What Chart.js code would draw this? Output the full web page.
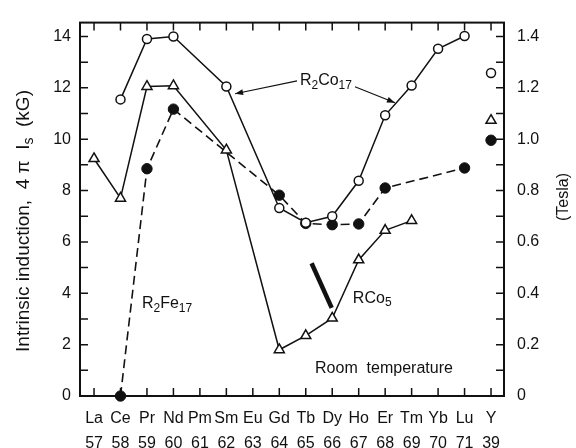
<!DOCTYPE html>
<html><head><meta charset="utf-8">
<script src="https://cdn.jsdelivr.net/npm/chart.js@4/dist/chart.umd.min.js"></script>
<style>html,body{margin:0;padding:0;background:#fff}#wrap{width:576px;height:448px}</style>
</head><body><div id="wrap"><canvas id="c" width="576" height="448"></canvas></div>
<script>
// ---- data ----
const symbols = ['La','Ce','Pr','Nd','Pm','Sm','Eu','Gd','Tb','Dy','Ho','Er','Tm','Yb','Lu','Y'];
const atomicNumbers = ['57','58','59','60','61','62','63','64','65','66','67','68','69','70','71','39'];
const r2co17 = [null, 11.55, 13.9, 14.0, null, 12.05, null, 7.32, 6.75, 7.0, 8.38, 10.93, 12.09, 13.52, 14.02, null];
const rco5   = [9.24, 7.7, 12.05, 12.08, null, 9.58, null, 1.8, 2.35, 3.03, 5.3, 6.45, 6.83, null, null, null];
const r2fe17 = [null, 0, 8.85, 11.17, null, null, null, 7.82, 6.72, 6.67, 6.7, 8.1, null, null, 8.88, null];
// yttrium (index 15) plotted as isolated points: R2Co17, RCo5, R2Fe17
const yttrium = [12.58, 10.73, 9.96];
const yttriumIndex = 15;
// short thick bar between Tb and Dy
const barX = [8.22, 8.98];
const barY = [5.17, 3.43];
const kgTicks = [0,1,2,3,4,5,6,7,8,9,10,11,12,13,14];
const teslaTicks = [0,0.1,0.2,0.3,0.4,0.5,0.6,0.7,0.8,0.9,1.0,1.1,1.2,1.3,1.4];

const FONT = '"Liberation Sans", Arial, sans-serif';
const INK = '#111';

const toXY = arr => arr.map((v, i) => ({x: i, y: v}));

const notes = [
  {parts: [['R',0],['2',1],['Co',0],['17',1]], x: 7.78, y: 12.27},
  {parts: [['R',0],['2',1],['Fe',0],['17',1]], x: 1.81, y: 3.58},
  {parts: [['RCo',0],['5',1]], x: 9.78, y: 3.81},
  {parts: [['Room  temperature',0]], x: 8.35, y: 1.08}
];
const arrows = [
  {from: [7.67, 12.27], to: [5.33, 11.77]},
  {from: [9.86, 12.04], to: [11.37, 11.42]}
];

function richWidth(ctx, parts, size) {
  let w = 0;
  for (const [t, sub] of parts) {
    ctx.font = (sub ? Math.round(size * 0.72) : size) + 'px ' + FONT;
    w += ctx.measureText(t).width;
  }
  return w;
}
function drawRich(ctx, parts, x, y, size, align) {
  let cx = align === 'center' ? x - richWidth(ctx, parts, size) / 2 : x;
  ctx.textBaseline = 'middle';
  ctx.textAlign = 'left';
  for (const [t, sub] of parts) {
    ctx.font = (sub ? Math.round(size * 0.72) : size) + 'px ' + FONT;
    ctx.fillText(t, cx, sub ? y + size * 0.28 : y);
    cx += ctx.measureText(t).width;
  }
}

const decor = {
  id: 'decor',
  afterDraw(chart) {
    const ctx = chart.ctx, a = chart.chartArea;
    const xs = chart.scales.x, ys = chart.scales.y, ts = chart.scales.y2;
    ctx.save();
    ctx.strokeStyle = INK; ctx.fillStyle = INK;
    // frame
    ctx.lineWidth = 2;
    ctx.strokeRect(a.left, a.top, a.right - a.left, a.bottom - a.top);
    // inward ticks
    ctx.lineWidth = 1.5;
    const L = 8;
    ctx.beginPath();
    for (const t of xs.ticks) {
      const px = xs.getPixelForValue(t.value);
      ctx.moveTo(px, a.bottom); ctx.lineTo(px, a.bottom - L);
      ctx.moveTo(px, a.top); ctx.lineTo(px, a.top + L);
    }
    for (const t of ys.ticks) {
      const py = ys.getPixelForValue(t.value);
      ctx.moveTo(a.left, py); ctx.lineTo(a.left + L, py);
    }
    for (const t of ts.ticks) {
      const py = ts.getPixelForValue(t.value);
      ctx.moveTo(a.right, py); ctx.lineTo(a.right - L, py);
    }
    ctx.stroke();
    // arrows
    ctx.lineWidth = 1.2;
    for (const ar of arrows) {
      const x1 = xs.getPixelForValue(ar.from[0]), y1 = ys.getPixelForValue(ar.from[1]);
      const x2 = xs.getPixelForValue(ar.to[0]), y2 = ys.getPixelForValue(ar.to[1]);
      ctx.beginPath(); ctx.moveTo(x1, y1); ctx.lineTo(x2, y2); ctx.stroke();
      const ang = Math.atan2(y2 - y1, x2 - x1), hl = 8, hw = 3;
      ctx.beginPath();
      ctx.moveTo(x2, y2);
      ctx.lineTo(x2 - hl * Math.cos(ang) + hw * Math.sin(ang), y2 - hl * Math.sin(ang) - hw * Math.cos(ang));
      ctx.lineTo(x2 - hl * Math.cos(ang) - hw * Math.sin(ang), y2 - hl * Math.sin(ang) + hw * Math.cos(ang));
      ctx.closePath(); ctx.fill();
    }
    // notes
    for (const n of notes) {
      drawRich(ctx, n.parts, xs.getPixelForValue(n.x), ys.getPixelForValue(n.y), 16, 'left');
    }
    // axis titles
    ctx.save();
    ctx.translate(24, 221); ctx.rotate(-Math.PI / 2);
    drawRich(ctx, [['Intrinsic induction,  4 π  I',0],['s',1],['  (kG)',0]], 0, 0, 19, 'center');
    ctx.restore();
    ctx.save();
    ctx.translate(564, 197); ctx.rotate(-Math.PI / 2);
    drawRich(ctx, [['(Tesla)',0]], 0, 0, 16, 'center');
    ctx.restore();
    ctx.restore();
  }
};

const openCircle = {pointStyle: 'circle', pointRadius: 4.5, pointBackgroundColor: '#fff', pointBorderColor: INK, pointBorderWidth: 1.5};
const filledCircle = {pointStyle: 'circle', pointRadius: 5.2, pointBackgroundColor: INK, pointBorderColor: INK, pointBorderWidth: 1};
const openTri = {pointStyle: 'triangle', pointRadius: 5.8, pointBackgroundColor: '#fff', pointBorderColor: INK, pointBorderWidth: 1.5};

new Chart(document.getElementById('c'), {
  type: 'line',
  data: {
    datasets: [
      Object.assign({label: 'R2Co17', data: toXY(r2co17), borderColor: INK, borderWidth: 1.5, spanGaps: true, clip: false}, openCircle),
      Object.assign({label: 'RCo5', data: toXY(rco5), borderColor: INK, borderWidth: 1.5, spanGaps: true, clip: false}, openTri),
      Object.assign({label: 'R2Fe17', data: toXY(r2fe17), borderColor: INK, borderWidth: 1.6, borderDash: [9, 5], spanGaps: true, clip: false}, filledCircle),
      Object.assign({label: 'Y R2Co17', data: [{x: yttriumIndex, y: yttrium[0]}], showLine: false, clip: false}, openCircle),
      Object.assign({label: 'Y RCo5', data: [{x: yttriumIndex, y: yttrium[1]}], showLine: false, clip: false}, openTri),
      Object.assign({label: 'Y R2Fe17', data: [{x: yttriumIndex, y: yttrium[2]}], showLine: false, clip: false}, filledCircle),
      {label: 'bar', data: barX.map((x, i) => ({x, y: barY[i]})), borderColor: INK, borderWidth: 4.5, pointRadius: 0, borderCapStyle: 'butt', clip: false}
    ]
  },
  options: {
    responsive: false, animation: false, devicePixelRatio: 1,
    layout: {autoPadding: false, padding: {top: 18, left: 0, right: 0, bottom: 0}},
    plugins: {legend: {display: false}, tooltip: {enabled: false}},
    elements: {line: {tension: 0}},
    scales: {
      x: {
        type: 'linear', min: -0.53, max: 15.49,
        afterBuildTicks: s => { s.ticks = symbols.map((_, i) => ({value: i})); },
        afterFit: s => { s.height = 52; },
        grid: {display: false, drawTicks: false}, border: {display: false},
        ticks: {autoSkip: false, maxRotation: 0, padding: 10, color: INK,
          font: {family: FONT, size: 16, lineHeight: 1.56},
          callback: v => [symbols[v], atomicNumbers[v]]}
      },
      y: {
        position: 'left', min: 0, max: 14.54,
        afterBuildTicks: s => { s.ticks = kgTicks.map(v => ({value: v})); },
        afterFit: s => { s.width = 80; },
        grid: {display: false, drawTicks: false}, border: {display: false},
        ticks: {autoSkip: false, padding: 9, color: INK, font: {family: FONT, size: 16},
          callback: v => (v % 2 === 0 ? String(v) : '')}
      },
      y2: {
        position: 'right', min: 0, max: 1.454,
        afterBuildTicks: s => { s.ticks = teslaTicks.map(v => ({value: v})); },
        afterFit: s => { s.width = 72; },
        grid: {display: false, drawTicks: false}, border: {display: false},
        ticks: {autoSkip: false, padding: 13, color: INK, font: {family: FONT, size: 16},
          callback: v => (Math.round(v * 10) % 2 === 0 ? (v === 0 ? '0' : v.toFixed(1)) : '')}
      }
    }
  },
  plugins: [decor]
});
</script></body></html>
